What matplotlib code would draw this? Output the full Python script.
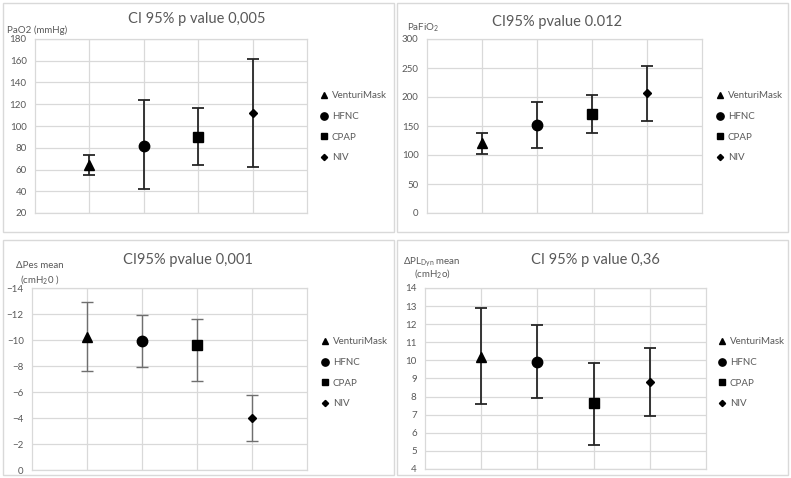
import matplotlib
matplotlib.use("Agg")
import matplotlib.pyplot as plt
from matplotlib.patches import Rectangle
import numpy as np

plt.rcParams['font.family'] = ['Lato', 'DejaVu Sans']
plt.rcParams['mathtext.fontset'] = 'custom'
plt.rcParams['mathtext.rm'] = 'Lato'
plt.rcParams['mathtext.it'] = 'Lato:italic'

groups = ["VenturiMask", "HFNC", "CPAP", "NIV"]
markers = ["^", "o", "s", "D"]
msizes = [7, 7.5, 7, 4.5]

# PaO2 (mmHg)
pao2_mean = [64, 82, 90, 112]
pao2_lo = [55, 42, 64.5, 62.5]
pao2_hi = [73.5, 124, 116.5, 161.5]

# PaFiO2
pafi_mean = [120, 151, 171, 207]
pafi_lo = [102, 112, 138, 158]
pafi_hi = [138, 191, 203, 254]

# delta Pes (cmH2O)
pes_mean = [-10.2, -9.9, -9.6, -3.97]
pes_lo = [-7.6, -7.9, -6.85, -2.2]
pes_hi = [-12.9, -11.95, -11.65, -5.75]

# delta PL dyn (cmH2O)
pl_mean = [10.2, 9.93, 7.63, 8.83]
pl_lo = [7.57, 7.94, 5.35, 6.94]
pl_hi = [12.9, 11.97, 9.88, 10.7]

W, H = 791, 478
fig = plt.figure(figsize=(W / 100, H / 100), dpi=100)
grey = "#595959"
gridc = "#d9d9d9"


def box(x0, y0, x1, y1):
    return [x0 / W, 1 - y1 / H, (x1 - x0) / W, (y1 - y0) / H]


# panel frames
for (x0, y0, x1, y1) in [(3, 3, 394, 232), (397, 3, 788, 232),
                         (3, 240, 394, 475), (397, 240, 788, 475)]:
    fig.patches.append(Rectangle((x0 / W, 1 - y1 / H), (x1 - x0) / W, (y1 - y0) / H,
                                 transform=fig.transFigure, fill=False,
                                 edgecolor="#d9d9d9", lw=1.0))


def panel(rect, mean, lo, hi, yl, yt, title, tpos, ylab, legpos, ecol, elw):
    ax = fig.add_axes(box(*rect))
    x = np.arange(1, 5)
    for i in range(4):
        a, b = min(lo[i], hi[i]), max(lo[i], hi[i])
        ax.errorbar(x[i], mean[i], yerr=[[mean[i] - a], [b - mean[i]]], fmt='none',
                    ecolor=ecol, elinewidth=elw, capsize=4, capthick=elw, zorder=3)
        ax.plot(x[i], mean[i], marker=markers[i], ms=msizes[i], color="black",
                ls="none", label=groups[i], zorder=4)
    ax.set_xlim(0, 5)
    ax.set_ylim(*yl)
    ax.set_yticks(yt)
    ax.set_xticks(x)
    ax.set_xticklabels([])
    ax.grid(True, color=gridc, lw=0.9)
    ax.set_axisbelow(True)
    for s in ax.spines.values():
        s.set_color(gridc)
        s.set_linewidth(0.9)
    ax.tick_params(length=0, labelsize=7, labelcolor=grey, pad=6)
    fig.text(tpos[0] / W, 1 - tpos[1] / H, title, ha="center", va="center",
             fontsize=10.5, color=grey)
    for (tx, ty, s) in ylab:
        fig.text(tx / W, 1 - ty / H, s, ha="left", va="center", fontsize=7, color=grey)
    ax.legend(loc="center left", bbox_to_anchor=(legpos[0] / W, 1 - legpos[1] / H),
              bbox_transform=fig.transFigure, frameon=False, fontsize=7,
              labelcolor=grey, handlelength=0.8, handletextpad=0.4, labelspacing=1.2,
              borderpad=0, borderaxespad=0, markerscale=0.7)
    return ax


dark = "#262626"
panel((35, 39, 307, 213), pao2_mean, pao2_lo, pao2_hi, (20, 180), range(20, 181, 20),
      "CI 95% p value 0,005", (197, 19), [(7, 30, "PaO2 (mmHg)")], (320, 127), dark, 1.3)
panel((427, 39, 702, 213), pafi_mean, pafi_lo, pafi_hi, (0, 300), range(0, 301, 50),
      "CI95% pvalue 0.012", (557, 22), [(407, 28, r"PaFiO$_2$")], (716, 127), dark, 1.3)
panel((32, 288, 307, 470), pes_mean, pes_lo, pes_hi, (0, -14), range(0, -15, -2),
      "CI95% pvalue 0,001", (188, 260), [(16, 266, "ΔPes mean"), (20, 279, r"(cmH$_2$0 )")],
      (321, 373), "#6f6f6f", 1.0)
panel((425, 288, 706, 469), pl_mean, pl_lo, pl_hi, (4, 14), range(4, 15),
      "CI 95% p value 0,36", (595, 260),
      [(403, 262, r"ΔPL$_{\mathrm{Dyn}}$ mean"), (414, 274, r"(cmH$_2$o)")],
      (718, 373), dark, 1.3)

fig.savefig("out.png", dpi=100)
